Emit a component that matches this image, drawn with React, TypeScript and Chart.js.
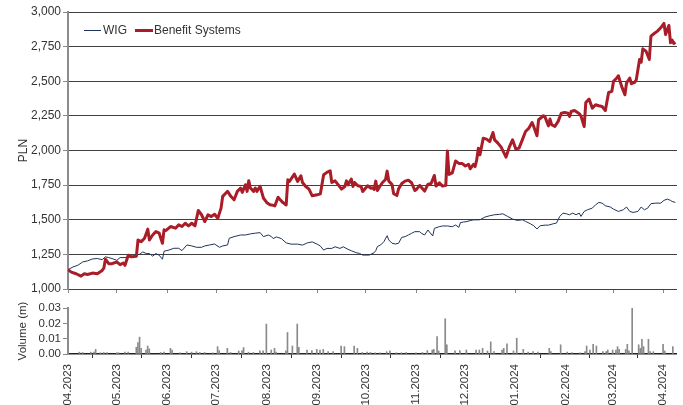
import React, { useEffect, useRef } from 'react';
import { Chart, registerables } from 'chart.js';

Chart.register(...registerables);

// x axis: days since 2023-04-01
const monthDays = [0, 30, 61, 91, 122, 153, 183, 214, 244, 275, 306, 335, 366];
const monthLabels = ['04.2023', '05.2023', '06.2023', '07.2023', '08.2023', '09.2023', '10.2023', '11.2023', '12.2023', '01.2024', '02.2024', '03.2024', '04.2024'];
const xMax = 374;

const priceTicks = [1000, 1250, 1500, 1750, 2000, 2250, 2500, 2750, 3000];
const volumeTicks = [0, 0.01, 0.02, 0.03];

const bsDays = [0, 2, 5, 8, 10, 12, 15, 18, 21, 22, 23, 25, 27, 30, 32, 34, 35, 37, 39, 42, 43, 45, 47, 49, 50, 52, 54, 56, 58, 59, 60, 63, 66, 68, 70, 72, 74, 76, 78, 80, 82, 84, 86, 88, 90, 92, 94, 95, 97, 98, 100, 102, 104, 106, 107, 109, 110, 111, 112, 114, 115, 116, 118, 120, 122, 124, 125, 127, 129, 130, 132, 134, 135, 136, 139, 141, 143, 144, 146, 148, 150, 153, 155, 157, 159, 161, 162, 164, 166, 168, 170, 171, 172, 174, 175, 176, 178, 180, 181, 184, 186, 187, 188, 189, 190, 191, 193, 195, 196, 197, 199, 200, 202, 203, 205, 207, 209, 211, 213, 214, 216, 219, 221, 223, 225, 226, 228, 230, 232, 233, 234, 236, 238, 240, 242, 244, 246, 247, 249, 250, 251, 252, 253, 255, 257, 259, 261, 262, 264, 266, 269, 271, 273, 275, 277, 279, 281, 283, 285, 286, 288, 289, 292, 293, 295, 296, 297, 299, 301, 303, 305, 307, 308, 309, 311, 312, 314, 315, 317, 318, 320, 322, 324, 326, 328, 330, 332, 334, 335, 337, 338, 340, 342, 343, 345, 346, 348, 349, 351, 352, 353, 355, 357, 358, 360, 362, 364, 366, 367, 369, 370, 371, 372, 373];
const bsValues = [1139, 1122, 1110, 1093, 1110, 1105, 1115, 1110, 1134, 1150, 1215, 1183, 1183, 1195, 1176, 1188, 1171, 1244, 1232, 1237, 1354, 1342, 1366, 1432, 1354, 1390, 1415, 1403, 1330, 1427, 1422, 1451, 1439, 1463, 1451, 1475, 1456, 1475, 1456, 1567, 1536, 1487, 1536, 1523, 1540, 1511, 1584, 1669, 1693, 1705, 1669, 1644, 1705, 1729, 1698, 1753, 1705, 1782, 1729, 1705, 1729, 1705, 1741, 1657, 1625, 1608, 1607, 1600, 1663, 1648, 1624, 1607, 1789, 1777, 1830, 1777, 1818, 1769, 1740, 1721, 1673, 1680, 1687, 1825, 1842, 1854, 1769, 1781, 1752, 1721, 1740, 1781, 1752, 1794, 1740, 1769, 1745, 1740, 1704, 1745, 1728, 1731, 1719, 1779, 1711, 1731, 1767, 1791, 1851, 1779, 1755, 1688, 1675, 1723, 1762, 1779, 1786, 1767, 1711, 1719, 1748, 1707, 1755, 1762, 1820, 1743, 1767, 1743, 1748, 1996, 1827, 1839, 1924, 1907, 1907, 1888, 1900, 1868, 1900, 1884, 1932, 2017, 1969, 2089, 2082, 2065, 2130, 2077, 2053, 2024, 1952, 2024, 2077, 2010, 2017, 2077, 2137, 2161, 2202, 2174, 2106, 2222, 2251, 2241, 2178, 2227, 2186, 2174, 2210, 2270, 2275, 2270, 2246, 2282, 2289, 2281, 2265, 2250, 2173, 2347, 2371, 2306, 2330, 2323, 2318, 2289, 2419, 2427, 2499, 2523, 2540, 2463, 2402, 2487, 2523, 2482, 2492, 2511, 2657, 2637, 2734, 2717, 2657, 2826, 2845, 2862, 2886, 2918, 2838, 2903, 2778, 2797, 2773, 2782];

const wigDays = [0, 3, 6, 9, 12, 15, 18, 21, 23, 25, 27, 30, 32, 35, 37, 40, 42, 44, 46, 48, 50, 52, 54, 56, 58, 59, 62, 65, 68, 70, 73, 76, 79, 82, 84, 87, 90, 93, 95, 98, 99, 102, 106, 109, 112, 115, 118, 120, 123, 125, 126, 128, 131, 134, 137, 141, 144, 147, 150, 153, 155, 157, 159, 162, 164, 167, 169, 172, 174, 177, 179, 181, 185, 188, 189, 190, 192, 194, 196, 197, 199, 201, 203, 205, 207, 209, 211, 213, 216, 217, 219, 221, 224, 225, 228, 230, 233, 236, 238, 240, 241, 243, 245, 247, 249, 253, 256, 259, 262, 265, 267, 270, 273, 276, 279, 281, 284, 286, 288, 290, 293, 295, 298, 300, 302, 304, 306, 308, 310, 312, 314, 315, 317, 319, 322, 324, 326, 328, 330, 333, 335, 338, 341, 343, 345, 347, 350, 352, 354, 356, 358, 361, 364, 366, 368, 370, 371, 373];
const wigValues = [1139, 1159, 1171, 1195, 1203, 1217, 1220, 1212, 1232, 1227, 1220, 1207, 1227, 1227, 1232, 1237, 1244, 1251, 1268, 1256, 1256, 1237, 1256, 1244, 1215, 1273, 1281, 1294, 1294, 1277, 1318, 1311, 1301, 1301, 1311, 1318, 1325, 1301, 1311, 1318, 1366, 1378, 1390, 1390, 1398, 1403, 1407, 1378, 1390, 1378, 1364, 1376, 1364, 1333, 1324, 1324, 1317, 1333, 1340, 1324, 1310, 1281, 1293, 1293, 1305, 1293, 1305, 1286, 1276, 1262, 1257, 1245, 1245, 1262, 1277, 1306, 1318, 1342, 1385, 1354, 1330, 1325, 1330, 1373, 1378, 1390, 1402, 1414, 1414, 1402, 1390, 1426, 1383, 1438, 1450, 1455, 1455, 1450, 1462, 1445, 1479, 1484, 1487, 1494, 1499, 1500, 1519, 1529, 1536, 1539, 1543, 1524, 1505, 1495, 1500, 1488, 1471, 1457, 1433, 1457, 1461, 1461, 1471, 1476, 1524, 1548, 1543, 1536, 1548, 1536, 1548, 1524, 1560, 1572, 1584, 1608, 1625, 1620, 1601, 1592, 1577, 1560, 1572, 1592, 1560, 1553, 1560, 1592, 1572, 1584, 1616, 1620, 1620, 1640, 1649, 1640, 1632, 1625];

const volDays = [0, 7, 9, 14, 16, 17, 20, 22, 24, 30, 31, 35, 37, 42, 43, 44, 45, 48, 49, 50, 57, 59, 63, 64, 69, 73, 76, 79, 81, 84, 89, 92, 93, 98, 100, 105, 107, 108, 111, 114, 118, 120, 122, 125, 127, 128, 134, 135, 138, 141, 142, 147, 150, 153, 155, 157, 160, 163, 168, 170, 176, 178, 181, 184, 186, 189, 192, 196, 198, 202, 205, 208, 214, 218, 221, 224, 225, 227, 228, 232, 233, 238, 241, 245, 251, 253, 255, 258, 260, 262, 267, 268, 270, 274, 276, 280, 283, 286, 289, 296, 297, 303, 307, 310, 315, 318, 319, 321, 323, 325, 329, 331, 332, 335, 337, 338, 339, 343, 344, 345, 347, 351, 352, 353, 354, 357, 358, 360, 366, 367, 372];
const volValues = [0.003, 0.0012, 0.001, 0.0012, 0.0012, 0.003, 0.0008, 0.001, 0.001, 0.0008, 0.0008, 0.0012, 0.0012, 0.0044, 0.0074, 0.011, 0.0037, 0.0026, 0.0052, 0.0033, 0.001, 0.0012, 0.0037, 0.0026, 0.0008, 0.0015, 0.0012, 0.0015, 0.001, 0.001, 0.0008, 0.0048, 0.0022, 0.0037, 0.001, 0.002, 0.0022, 0.0042, 0.0012, 0.001, 0.002, 0.002, 0.0195, 0.0026, 0.0037, 0.0012, 0.002, 0.014, 0.0052, 0.0195, 0.0044, 0.0026, 0.0022, 0.003, 0.0026, 0.003, 0.0015, 0.0015, 0.0052, 0.0048, 0.0052, 0.0037, 0.001, 0.0012, 0.001, 0.0008, 0.0008, 0.0015, 0.002, 0.0008, 0.0008, 0.001, 0.0008, 0.001, 0.0022, 0.0026, 0.003, 0.0114, 0.002, 0.023, 0.006, 0.002, 0.0022, 0.0026, 0.0026, 0.0026, 0.0037, 0.002, 0.0079, 0.0015, 0.0026, 0.0037, 0.0066, 0.002, 0.0103, 0.003, 0.0012, 0.0015, 0.0012, 0.0037, 0.0015, 0.006, 0.0012, 0.001, 0.0008, 0.0015, 0.0052, 0.0026, 0.0063, 0.0052, 0.0015, 0.0015, 0.0026, 0.0026, 0.0026, 0.0048, 0.003, 0.003, 0.0063, 0.002, 0.03, 0.006, 0.0037, 0.0096, 0.0048, 0.0096, 0.0015, 0.0015, 0.0063, 0.002, 0.0048];

const FONT = '"Liberation Sans", Arial, Helvetica, sans-serif';
const TEXT = '#333333';
const RED = '#a81d27';
const NAVY = '#1f335c';

export default function App() {
  const topRef = useRef<HTMLCanvasElement>(null);
  const botRef = useRef<HTMLCanvasElement>(null);

  useEffect(() => {
    Chart.defaults.font.family = FONT;
    Chart.defaults.color = TEXT;
    const setMonthTicks = (s: any) => { s.ticks = monthDays.map((v) => ({ value: v })); };

    const top = new Chart(topRef.current!, {
      type: 'line',
      data: {
        datasets: [
          { label: 'Benefit Systems', data: bsDays.map((d, i) => ({ x: d, y: bsValues[i] })), borderColor: RED, borderWidth: 3, pointRadius: 0, tension: 0, borderJoinStyle: 'round' },
          { label: 'WIG', data: wigDays.map((d, i) => ({ x: d, y: wigValues[i] })), borderColor: NAVY, borderWidth: 1, pointRadius: 0, tension: 0 },
        ],
      },
      options: {
        animation: false, responsive: false, maintainAspectRatio: false, events: [],
        layout: { padding: { top: 12, right: 6, left: 0, bottom: 0 } },
        plugins: { legend: { display: false }, tooltip: { enabled: false } },
        scales: {
          x: {
            type: 'linear', min: 0, max: xMax,
            afterBuildTicks: setMonthTicks,
            ticks: { display: false },
            grid: { drawOnChartArea: false, drawTicks: true, tickLength: 4, color: '#888', tickColor: '#888' },
            border: { display: false },
            afterFit: (s: any) => { s.height = 11; },
          },
          y: {
            min: 1000, max: 3000,
            afterBuildTicks: (s: any) => { s.ticks = priceTicks.map((v) => ({ value: v })); },
            ticks: { autoSkip: false, callback: (v: any) => Number(v).toLocaleString('en-US'), padding: 2, color: TEXT, font: { size: 12 } },
            grid: { color: '#404040', tickColor: '#888', tickLength: 5, lineWidth: 1 },
            border: { color: '#8c8c8c', width: 2 },
            title: { display: true, text: 'PLN', padding: { top: 16, bottom: 0 }, color: TEXT, font: { size: 12 } },
            afterFit: (s: any) => { s.width = 68; },
          },
        },
      },
    });

    const bot = new Chart(botRef.current!, {
      type: 'bar',
      data: {
        datasets: [
          { label: 'Volume', data: volDays.map((d, i) => ({ x: d, y: volValues[i] })), backgroundColor: '#8a8a8a', borderWidth: 0, barThickness: 1, grouped: false },
        ],
      },
      options: {
        animation: false, responsive: false, maintainAspectRatio: false, events: [],
        layout: { padding: { top: 13, right: 6, left: 0, bottom: 0 } },
        plugins: { legend: { display: false }, tooltip: { enabled: false } },
        scales: {
          x: {
            type: 'linear', min: 0, max: xMax, offset: false,
            afterBuildTicks: setMonthTicks,
            ticks: { autoSkip: false, maxRotation: 90, minRotation: 90, padding: 6, callback: (_v: any, i: number) => monthLabels[i], font: { size: 11.5 }, color: TEXT },
            grid: { drawOnChartArea: false, drawTicks: true, tickLength: 4, color: '#333', tickColor: '#333' },
            border: { color: '#222', width: 1.5 },
            afterFit: (s: any) => { s.height = 51; },
          },
          y: {
            min: 0, max: 0.03,
            afterBuildTicks: (s: any) => { s.ticks = volumeTicks.map((v) => ({ value: v })); },
            ticks: { autoSkip: false, callback: (v: any) => Number(v).toFixed(2), padding: 2, font: { size: 11.5 }, color: TEXT },
            grid: { drawOnChartArea: false, drawTicks: true, tickLength: 5, tickColor: '#888' },
            border: { color: '#8c8c8c', width: 2 },
            title: { display: true, text: 'Volume (m)', padding: { top: 16, bottom: 0 }, color: TEXT, font: { size: 11.5 } },
            afterFit: (s: any) => { s.width = 68; },
          },
        },
      },
    });

    return () => { top.destroy(); bot.destroy(); };
  }, []);

  return (
    <div style={{ position: 'absolute', left: 0, top: 0, width: 683, height: 405, background: '#fff', overflow: 'hidden' }}>
      <canvas ref={topRef} width={683} height={300} style={{ position: 'absolute', left: 0, top: 0, display: 'block' }} />
      <canvas ref={botRef} width={683} height={110} style={{ position: 'absolute', left: 0, top: 295, display: 'block' }} />
      <div style={{ position: 'absolute', left: 84, top: 23, display: 'flex', alignItems: 'center', font: `12px ${FONT}`, color: TEXT, lineHeight: '14px', whiteSpace: 'nowrap' }}>
        <span style={{ display: 'inline-block', width: 17, height: 1, background: NAVY, marginRight: 2 }} />
        <span>WIG</span>
        <span style={{ display: 'inline-block', width: 18, height: 3, background: RED, marginLeft: 8, marginRight: 1 }} />
        <span>Benefit Systems</span>
      </div>
    </div>
  );
}
